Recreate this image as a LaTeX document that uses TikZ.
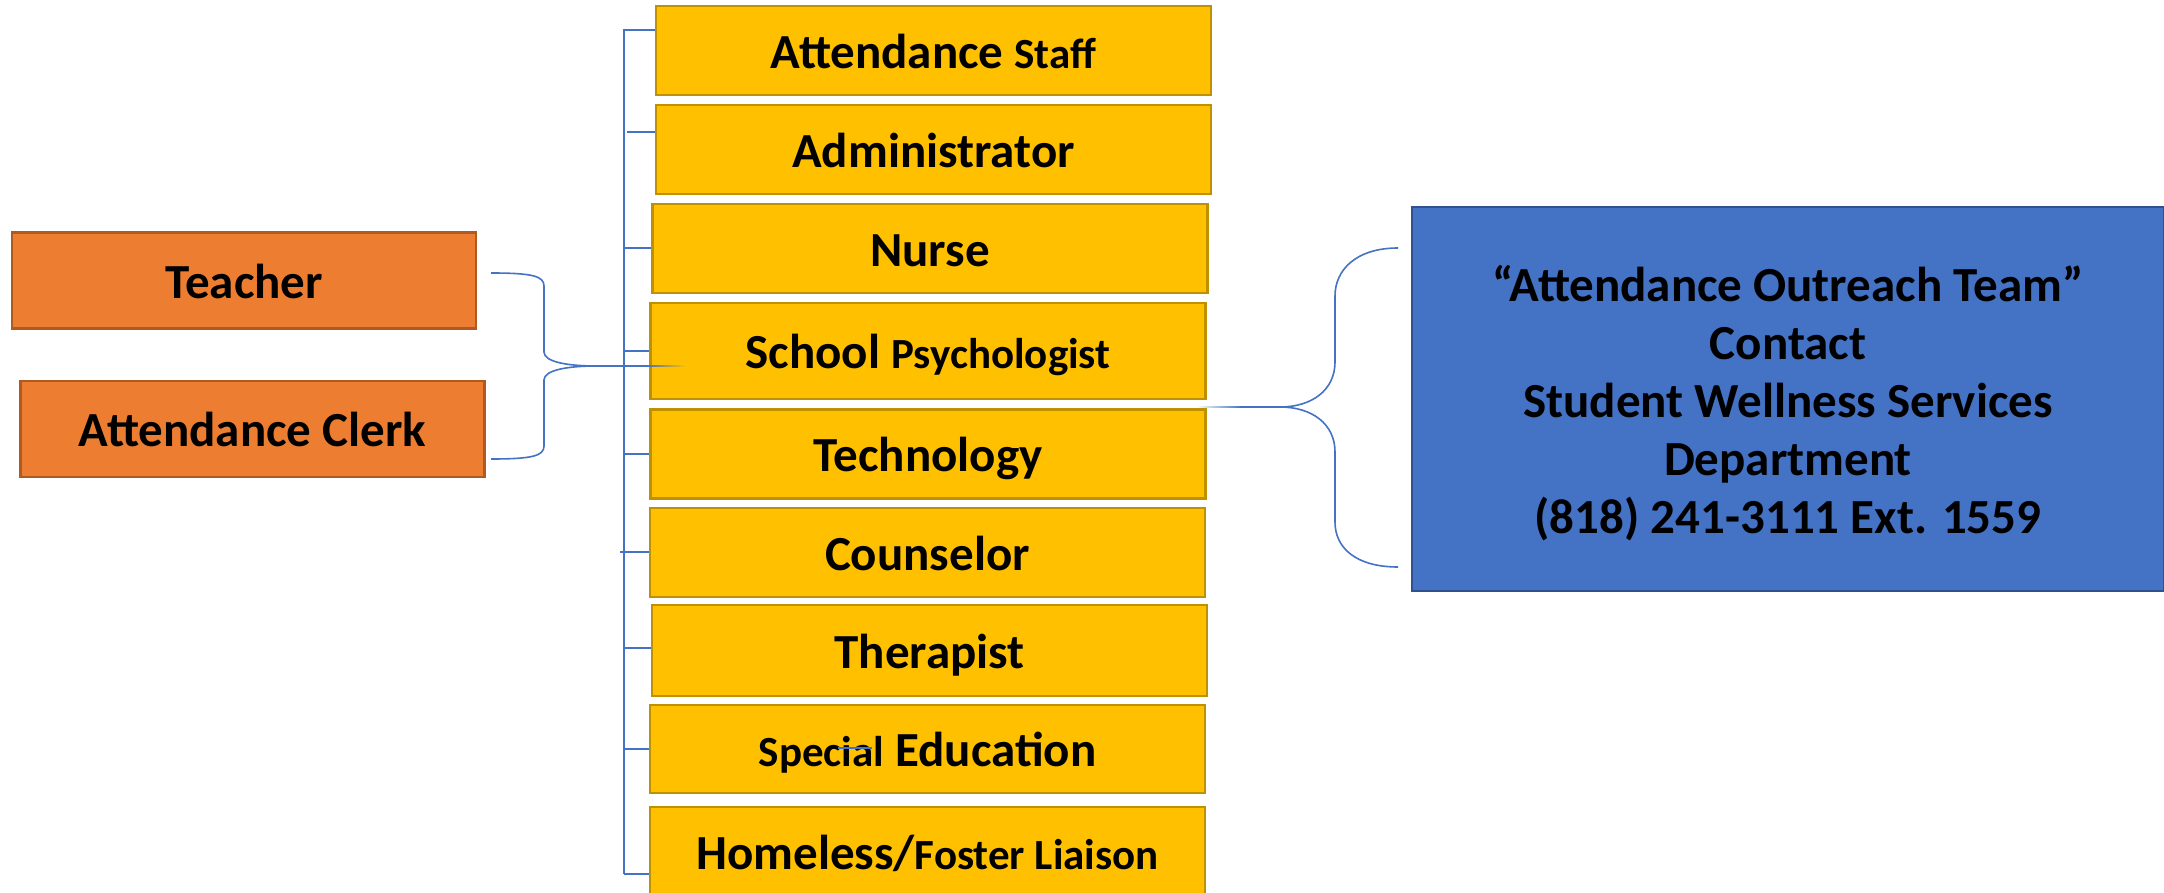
\documentclass[tikz,border=0pt]{standalone}
\usepackage{fontspec}
\setmainfont{Carlito}
\usetikzlibrary{fadings}
\definecolor{ylw}{HTML}{FFC000}
\definecolor{ylwd}{HTML}{BF9000}
\definecolor{org}{HTML}{ED7D31}
\definecolor{orgd}{HTML}{AE5A21}
\definecolor{blu}{HTML}{4472C4}
\definecolor{blud}{HTML}{2F528F}
\newcommand{\bigf}{\fontsize{24.5}{29}\selectfont}
\newcommand{\smf}{\fontsize{21.5}{25}\selectfont}
\tikzset{
  box/.style={draw, line width=1.1pt, inner sep=0pt, align=center, font=\bigf\bfseries, text=black},
  one/.style={text height=18.3pt, text depth=0.5pt},
  ybox/.style={box, one, fill=ylw, draw=ylwd, minimum width=277.5pt, minimum height=44.5pt},
  obox/.style={box, one, fill=org, draw=orgd, minimum width=232pt, minimum height=48pt},
  bbox/.style={box, fill=blu, draw=blud, minimum width=376pt, minimum height=192pt},
  conn/.style={draw=blu, line width=0.8pt},
}
\begin{document}
\begin{tikzpicture}[x=0.5pt,y=-0.5pt]
\useasboundingbox (0,0) rectangle (2164,893);
\clip (0,0) rectangle (2164,893);
\fill[white] (0,0) rectangle (2164,893);
% orange boxes
\node[obox] (teacher) at (244,280.5) {Teacher};
\node[obox] (clerk) at (252.5,429) {Attendance Clerk};
% yellow boxes
\node[ybox] (as) at (933.5,50.5) {Attendance {\smf Staff}};
\node[ybox] (adm) at (933.5,149.5) {Administrator};
\node[ybox] (nurse) at (930,248.5) {Nurse};
\node[ybox, minimum height=48pt] (psych) at (928,351) {School {\smf Psychologist}};
\node[ybox] (tech) at (928,454) {Technology};
\node[ybox] (couns) at (927.5,552.5) {Counselor};
\node[ybox, minimum height=45.5pt] (ther) at (929.5,650.5) {Therapist};
\node[ybox, minimum height=44pt] (sped) at (927.5,749) {{\smf Special} Education};
\node[ybox] (home) at (927.5,851.5) {Homeless/{\smf Foster Liaison}};
% blue box
\node[bbox] (aot) at (1788,399) {\rule{0pt}{22pt}\char"201C Attendance Outreach Team\char"201D\\Contact\\Student Wellness Services\\Department\\(818) 241-3111 Ext. 1559};
% staff bracket
\coordinate (vtop) at (624,29);
\coordinate (vbot) at (624,874);
\draw[conn] (vtop) -- (vbot);
\draw[conn] (vtop |- 0,30) -- (as.west |- 0,30);
\draw[conn] (627,132) -- (adm.west |- 0,132);
\draw[conn] (vtop |- 0,248) -- (nurse.west |- 0,248);
\draw[conn] (vtop |- psych.west) -- (psych.west);
\draw[conn] (vtop |- tech.west) -- (tech.west);
\draw[conn] (620,552) -- (couns.west |- 0,552);
\draw[conn] (vtop |- 0,648) -- (ther.west |- 0,648);
\draw[conn] (vtop |- sped.west) -- (sped.west);
\draw[conn] (vbot) -- (home.west |- vbot);
\draw[conn] (838,748) -- (872,748);
% left brace
\coordinate (lbt) at (491,273);
\coordinate (lbb) at (491,459);
\coordinate (lbtip) at (596,366);
\draw[conn] (lbt) .. controls (532,273) and (544,276) .. (544,286) -- (544,352)
  .. controls (544,362) and (568,366) .. (lbtip)
  .. controls (568,366) and (544,370) .. (544,380) -- (544,446)
  .. controls (544,456) and (532,459) .. (lbb);
\draw[conn] (lbtip) -- (648,366);
\draw[conn, path fading=east] (647,366) -- (685,366);
% right brace
\coordinate (rbt) at (1398,248);
\coordinate (rbb) at (1398,567);
\coordinate (rbtip) at (1280,407);
\draw[conn] (rbt) .. controls (1356,248) and (1335,270) .. (1335,296) -- (1335,362)
  .. controls (1335,390) and (1312,407) .. (rbtip)
  .. controls (1312,407) and (1335,424) .. (1335,452) -- (1335,522)
  .. controls (1335,548) and (1356,567) .. (rbb);
\draw[conn] (rbtip) -- (1240,407);
\draw[conn, path fading=west] (1241,407) -- (1197,407);
\end{tikzpicture}
\end{document}
